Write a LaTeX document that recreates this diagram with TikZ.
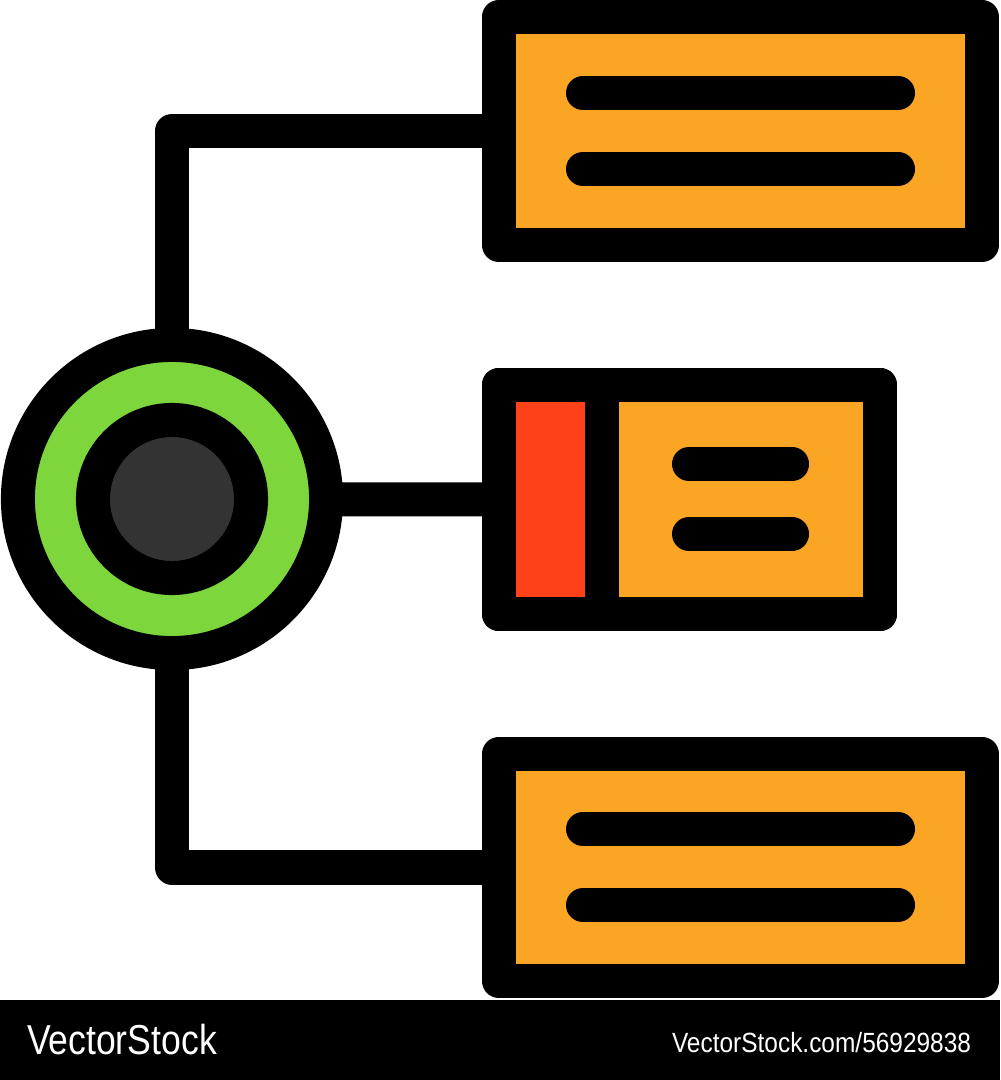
\documentclass[tikz,border=0pt]{standalone}
\usepackage{fontspec}
\setmainfont{Liberation Sans}
\definecolor{boxorange}{HTML}{FBA524}
\definecolor{boxred}{HTML}{FF4119}
\definecolor{ringgreen}{HTML}{7ED63D}
\definecolor{coredark}{HTML}{333333}
\begin{document}
\begin{tikzpicture}[x=0.01cm,y=-0.01cm,
  thick stroke/.style={line width=0.34cm, draw=black},
  card/.style={thick stroke, line join=round, fill=boxorange, rectangle, inner sep=0pt, outer sep=0pt},
  textbar/.style={line width=0.34cm, line cap=round},
  link/.style={line width=0.34cm, line join=round},
  wm/.style={text=white, inner sep=0pt, outer sep=0pt}]
\useasboundingbox (0,0) rectangle (1000,1080);
% nodes
\node[card, minimum width=4.83cm, minimum height=2.28cm] (top) at (740.5,131) {};
\node[card, minimum width=3.81cm, minimum height=2.29cm] (mid) at (689.5,499.5) {};
\node[card, minimum width=4.83cm, minimum height=2.27cm] (bot) at (740.5,867.5) {};
% red section of the middle card
\fill[boxred] (500,390) rectangle (602,610);
\draw[line width=0.34cm] (602,385) -- (602,614);
\draw[thick stroke, line join=round] (mid.north west) rectangle (mid.south east);
% connectors
\coordinate (hub) at (172,499);
\draw[link] (hub) |- (top.west);
\draw[link] (hub) -- (mid.west);
\draw[link] (hub) |- (bot.west);
% hub
\node[circle, thick stroke, fill=ringgreen, minimum size=3.08cm, inner sep=0pt, outer sep=0pt] (ring) at (hub) {};
\node[circle, thick stroke, fill=coredark, minimum size=1.58cm, inner sep=0pt, outer sep=0pt] (core) at (hub) {};
% text bars
\draw[textbar] (583,93) -- (898,93);
\draw[textbar] (583,169) -- (898,169);
\draw[textbar] (689,464) -- (792,464);
\draw[textbar] (689,534) -- (792,534);
\draw[textbar] (583,829) -- (898,829);
\draw[textbar] (583,905) -- (898,905);
% watermark bar
\fill[black] (0,1000) rectangle (1000,1080);
\node[wm, anchor=base west, font=\fontsize{11.9pt}{12pt}\selectfont, xscale=0.85] (wml) at (27,1054) {VectorStock};
\node[wm, anchor=base east, font=\fontsize{7.9pt}{8pt}\selectfont, xscale=0.88] (wmr) at (971,1052) {VectorStock.com/56929838};
\end{tikzpicture}
\end{document}
